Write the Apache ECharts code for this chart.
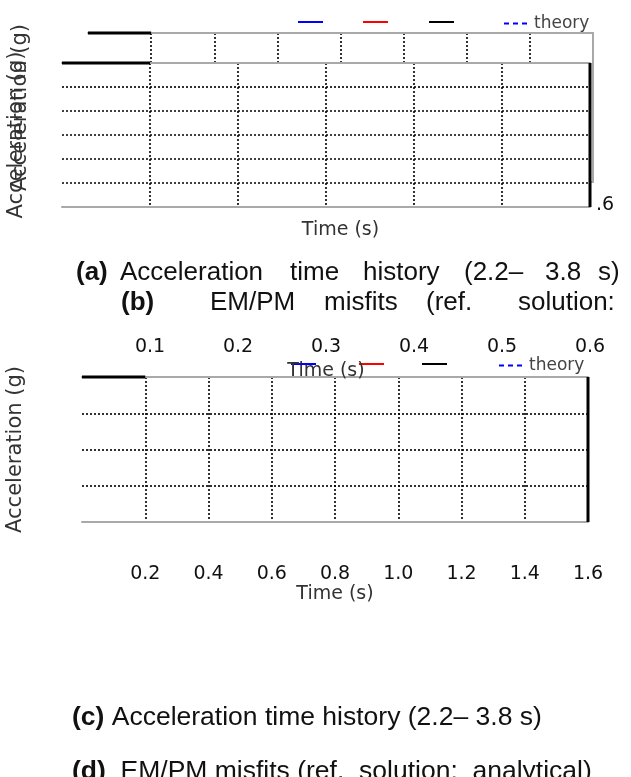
<!DOCTYPE html>
<html>
<head>
<meta charset="utf-8">
<script src="https://cdn.jsdelivr.net/npm/echarts@6/dist/echarts.min.js"></script>
<style>
  html, body { margin: 0; padding: 0; background: #fff; }
  #chart { width: 631px; height: 777px; }
</style>
</head>
<body>
<div id="chart"></div>
<script>
// Axis scales (time in seconds, acceleration in g)
const timeScaleWide = { min: 0, max: 1.6, step: 0.2 };
const timeScaleShort = { min: 0, max: 0.6, step: 0.1 };
const accScaleUpper = { min: -0.6, max: 0.6, step: 0.2 };
const accScaleLower = { min: -0.4, max: 0.4, step: 0.2 };

// Series names shown in the legends
const seriesNames = ['EM', 'PM', 'ref', 'theory'];

// Reference trace segments (time, acceleration)
const refTopBack = [[0, 0.6], [0.2, 0.6]];
const refTopUpper = [[0, 0.6], [0.1, 0.6]];
const refEdgeUpper = [[0.6, -0.6], [0.6, 0.6]];
const refTopLower = [[0, 0.4], [0.2, 0.4]];
const refEdgeLower = [[1.6, -0.4], [1.6, 0.4]];

// EM / PM / theory traces (nothing falls inside the plotted windows)
const emData = [];
const pmData = [];
const theoryData = [];

// Caption text
const captionA = ['Acceleration', 'time', 'history', '(2.2–', '3.8', 's)'];
const captionB = ['EM/PM', 'misfits', '(ref.', 'solution:'];
const captionC = 'Acceleration time history (2.2– 3.8 s)';
const captionD = ' EM/PM misfits (ref.  solution:  analytical)';
const cutLabel = '.6';

const AXF = 'DejaVu Sans';
const CAPF = 'Liberation Sans';
const GRAY = '#a9a9a9';
const DOT = { color: '#000', type: [2, 2], width: 1.6 };

function xBottom(grid, sc, extra) {
  return Object.assign({
    type: 'value', gridIndex: grid, position: 'bottom',
    min: sc.min, max: sc.max, interval: sc.step,
    axisLine: { show: true, onZero: false, lineStyle: { color: GRAY, width: 2 } },
    axisTick: { show: false },
    axisLabel: { show: false },
    splitLine: { show: true, showMinLine: false, showMaxLine: false, lineStyle: DOT },
    nameLocation: 'middle',
    nameTextStyle: { fontFamily: AXF, fontSize: 19, color: '#333' }
  }, extra || {});
}
function xTop(grid, sc, extra) {
  return Object.assign({
    type: 'value', gridIndex: grid, position: 'top',
    min: sc.min, max: sc.max, interval: sc.step,
    axisLine: { show: true, onZero: false, lineStyle: { color: GRAY, width: 2 } },
    axisTick: { show: false }, axisLabel: { show: false }, splitLine: { show: false }
  }, extra || {});
}
function yLeft(grid, sc, extra) {
  return Object.assign({
    type: 'value', gridIndex: grid, position: 'left',
    min: sc.min, max: sc.max, interval: sc.step,
    axisLine: { show: false, onZero: false },
    axisTick: { show: false }, axisLabel: { show: false },
    splitLine: { show: true, showMinLine: false, showMaxLine: false, lineStyle: DOT },
    name: 'Acceleration (g)', nameLocation: 'middle',
    nameTextStyle: { fontFamily: AXF, fontSize: 21, color: '#333' }
  }, extra || {});
}

const tickLabel = (margin) => ({
  show: true, margin: margin, showMinLabel: false,
  fontFamily: AXF, fontSize: 19, color: '#111',
  formatter: v => v.toFixed(1)
});

function refSeries(data, xi, yi, z) {
  return {
    name: 'ref', type: 'line', xAxisIndex: xi, yAxisIndex: yi, data: data,
    symbol: 'none', clip: false, z: z,
    lineStyle: { color: '#000', width: 3 }, itemStyle: { color: '#000' }
  };
}

function legendAt(left, top, name) {
  return {
    left: left, top: top, data: [name], padding: 0, itemGap: 0,
    itemWidth: 25, itemHeight: 14, selectedMode: false,
    itemStyle: { opacity: 0 },
    formatter: n => (n === 'theory' ? 'theory' : ''),
    textStyle: { fontFamily: AXF, fontSize: 17, color: '#444' }
  };
}

function word(text, x, y, bold) {
  return {
    type: 'text', x: x, y: y,
    style: {
      text: text, fontFamily: CAPF, fontSize: 26, fontWeight: bold ? 'bold' : 'normal',
      fill: '#111', verticalAlign: 'middle'
    }
  };
}

const captionAX = [120, 290, 363, 464, 545, 598];
const captionBX = [210, 324, 426, 518];

const graphics = [];
graphics.push(word('(a)', 76, 273, true));
captionA.forEach((w, i) => graphics.push(word(w, captionAX[i], 273, false)));
graphics.push(word('(b)', 121, 303, true));
captionB.forEach((w, i) => graphics.push(word(w, captionBX[i], 303, false)));
graphics.push({
  type: 'text', x: 72, y: 718,
  style: {
    text: '{b|(c)} ' + captionC, fontFamily: CAPF, fontSize: 26.5, fill: '#111', verticalAlign: 'middle',
    rich: { b: { fontFamily: CAPF, fontSize: 26.5, fontWeight: 'bold', fill: '#111' } }
  }
});
graphics.push({
  type: 'text', x: 72, y: 772,
  style: {
    text: '{b|(d)} ' + captionD, fontFamily: CAPF, fontSize: 26.5, fill: '#111', verticalAlign: 'middle',
    rich: { b: { fontFamily: CAPF, fontSize: 26.5, fontWeight: 'bold', fill: '#111' } }
  }
});
graphics.push({
  type: 'text', x: 596, y: 205,
  style: { text: cutLabel, fontFamily: AXF, fontSize: 19, fill: '#111', verticalAlign: 'middle' }
});

const option = {
  animation: false,
  backgroundColor: '#fff',
  grid: [
    { left: 88, right: 38, top: 33, height: 149, outerBoundsMode: 'none', containLabel: false },
    { left: 62, right: 41, top: 63, height: 144, show: true, backgroundColor: '#fff', borderWidth: 0, z: 3,
      outerBoundsMode: 'none', containLabel: false },
    { left: 82, right: 43, top: 377, height: 145, outerBoundsMode: 'none', containLabel: false }
  ],
  xAxis: [
    xBottom(0, timeScaleWide, { name: 'Time (s)', nameGap: 39 }),
    xTop(0, timeScaleWide),
    xBottom(1, timeScaleShort, { name: 'Time (s)', nameGap: 155, axisLabel: tickLabel(131), z: 4 }),
    xTop(1, timeScaleShort, { z: 4 }),
    xBottom(2, timeScaleWide, { name: 'Time (s)', nameGap: 63, axisLabel: tickLabel(43) }),
    xTop(2, timeScaleWide)
  ],
  yAxis: [
    yLeft(0, accScaleUpper, { nameGap: 57, splitLine: { show: false } }),
    {
      type: 'value', gridIndex: 0, position: 'right',
      min: accScaleUpper.min, max: accScaleUpper.max, interval: accScaleUpper.step,
      axisLine: { show: true, onZero: false, lineStyle: { color: GRAY, width: 2 } },
      axisTick: { show: false }, axisLabel: { show: false }, splitLine: { show: false }
    },
    yLeft(1, accScaleUpper, { nameGap: 35, z: 4 }),
    yLeft(2, accScaleLower, { nameGap: 56 })
  ],
  legend: [
    legendAt(297, 15, 'EM'), legendAt(362, 15, 'PM'), legendAt(428, 15, 'ref'), legendAt(503, 15, 'theory'),
    legendAt(290, 357, 'EM'), legendAt(358, 357, 'PM'), legendAt(421, 357, 'ref'), legendAt(498, 357, 'theory')
  ],
  series: [
    { name: 'EM', type: 'line', xAxisIndex: 2, yAxisIndex: 2, data: emData, symbol: 'none',
      lineStyle: { color: '#0000ff', width: 2 }, itemStyle: { color: '#0000ff' } },
    { name: 'PM', type: 'line', xAxisIndex: 2, yAxisIndex: 2, data: pmData, symbol: 'none',
      lineStyle: { color: '#ff0000', width: 2 }, itemStyle: { color: '#ff0000' } },
    refSeries(refTopBack, 0, 0, 2),
    refSeries(refTopUpper, 2, 2, 6),
    refSeries(refEdgeUpper, 2, 2, 6),
    refSeries(refTopLower, 4, 3, 2),
    refSeries(refEdgeLower, 4, 3, 2),
    { name: 'theory', type: 'line', xAxisIndex: 2, yAxisIndex: 2, data: theoryData, symbol: 'none',
      lineStyle: { color: '#0000ff', width: 1.5, type: [5, 4] }, itemStyle: { color: '#0000ff' } }
  ],
  graphic: graphics
};

const chart = echarts.init(document.getElementById('chart'), null, { renderer: 'canvas' });
chart.setOption(option);
</script>
</body>
</html>
